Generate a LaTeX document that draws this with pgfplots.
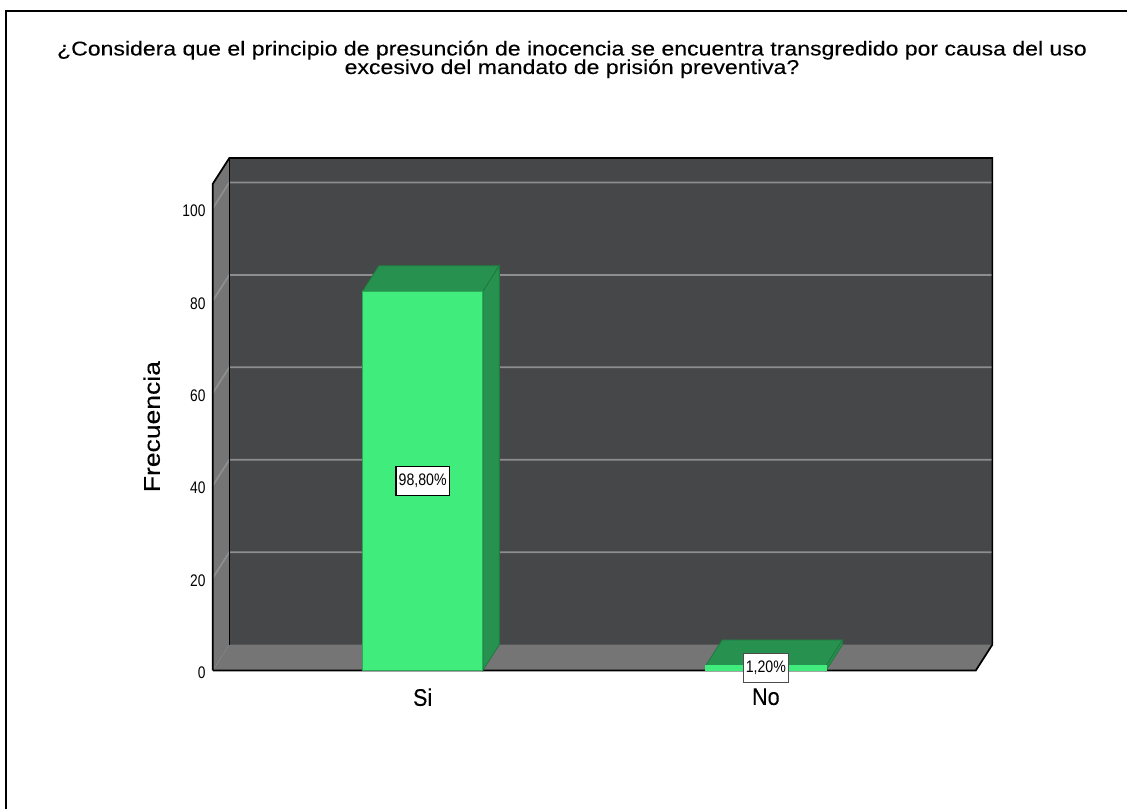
\documentclass[border=0pt]{standalone}
\usepackage{pgfplots}
\pgfplotsset{compat=1.18}
\usepackage{fontspec}
\setmainfont{Liberation Sans}
\newfontfamily\tickf[FakeStretch=0.82]{Liberation Sans}
\newfontfamily\labf[FakeStretch=0.85]{Liberation Sans}
\newfontfamily\catf[FakeStretch=0.9,FakeBold=0.2]{Liberation Sans}
\newfontfamily\ylabf[FakeStretch=1.17,FakeBold=0.3]{Liberation Sans}
\newfontfamily\titf[FakeStretch=1.153,FakeBold=0.2]{Liberation Sans}
\definecolor{wall}{HTML}{464749}
\definecolor{side}{HTML}{757575}
\definecolor{gridc}{HTML}{8E8E8E}
\definecolor{barf}{HTML}{40EC7C}
\definecolor{bard}{HTML}{27914F}
\definecolor{bare}{HTML}{1E7A40}
\begin{document}
\begin{tikzpicture}[x=0.75pt,y=0.75pt]
\path[fill=white] (0,0) rectangle (1128,810);
\draw[black,line width=1.5pt] (6,0) -- (6,799) -- (1128,799);
\node[align=center,font=\fontsize{15pt}{15pt}\selectfont\titf,anchor=center] at (572.5,750.5) {¿Considera que el principio de presunción de inocencia se encuentra transgredido por causa del uso\\[-1.1pt]excesivo del mandato de prisión preventiva?};
\begin{axis}[
  at={(159.75pt,104.25pt)},anchor=south west,
  scale only axis,width=572.8pt,height=366pt,
  xmin=-0.6114,xmax=1.6119,ymin=0,ymax=105.5,
  clip=false,
  axis line style={draw=none},
  xtick={0,1},xticklabels={Si,No},
  ytick={0,20,40,60,80,100},
  major tick length=0pt,
  /pgf/number format/assume math mode=true,
  yticklabel style={font=\fontsize{12.6pt}{12.6pt}\selectfont\tickf,xshift=-2pt,yshift=-2pt},
  xticklabel style={font=\fontsize{18pt}{18pt}\selectfont\catf,yshift=-10pt},
  ylabel={Frecuencia},
  ylabel style={font=\fontsize{17pt}{17pt}\selectfont\ylabf,yshift=10pt},
]
% walls
\addplot[fill=wall,draw=none] coordinates {(-0.5634,5.58)(1.660,5.58)(1.660,110.85)(-0.5634,110.85)} --cycle;
\addplot[fill=side,draw=none] coordinates {(-0.6114,0)(-0.5634,5.58)(-0.5634,110.85)(-0.6114,105.3)} --cycle;
\addplot[fill=side,draw=none] coordinates {(-0.6114,0)(1.6119,0)(1.660,5.58)(-0.5634,5.58)} --cycle;
% grid
\addplot[gridc,line width=1.3pt] coordinates {(-0.6114,20)(-0.5634,25.58)(1.660,25.58)};
\addplot[gridc,line width=1.3pt] coordinates {(-0.6114,40)(-0.5634,45.58)(1.660,45.58)};
\addplot[gridc,line width=1.3pt] coordinates {(-0.6114,60)(-0.5634,65.58)(1.660,65.58)};
\addplot[gridc,line width=1.3pt] coordinates {(-0.6114,80)(-0.5634,85.58)(1.660,85.58)};
\addplot[gridc,line width=1.3pt] coordinates {(-0.6114,100)(-0.5634,105.58)(1.660,105.58)};
% frame
\addplot[black,line width=1.3pt] coordinates {(-0.6114,0)(-0.6114,105.3)(-0.5634,110.85)(1.660,110.85)(1.660,5.58)(1.6119,0)(-0.6114,0)};
\addplot[black,line width=1pt] coordinates {(-0.5634,5.58)(-0.5634,110.85)};
% bar Si
\addplot[fill=bard,draw=bare,line width=0.6pt] coordinates {(-0.1755,82)(-0.1275,87.58)(0.2235,87.58)(0.1755,82)} --cycle;
\addplot[fill=bard,draw=bare,line width=0.6pt] coordinates {(0.1755,0)(0.2235,5.58)(0.2235,87.58)(0.1755,82)} --cycle;
\addplot[fill=barf,draw=bare!60!barf,line width=0.6pt] coordinates {(-0.1755,0)(0.1755,0)(0.1755,82)(-0.1755,82)} --cycle;
% bar No
\addplot[fill=bard,draw=bare,line width=0.6pt] coordinates {(0.8245,1)(0.8725,6.58)(1.2235,6.58)(1.1755,1)} --cycle;
\addplot[fill=bard,draw=bare,line width=0.6pt] coordinates {(1.1755,0)(1.2235,5.58)(1.2235,6.58)(1.1755,1)} --cycle;
\addplot[fill=barf,draw=barf,line width=0.6pt] coordinates {(0.8245,0)(1.1755,0)(1.1755,1)(0.8245,1)} --cycle;
% labels
\node[draw=black,fill=white,line width=0.9pt,inner xsep=2pt,inner ysep=0pt,minimum height=21.5pt,font=\fontsize{12.5pt}{12.5pt}\selectfont\labf] at (axis cs:0,41) {98,80\%};
\node[draw=black!70,fill=white,line width=0.9pt,inner xsep=2pt,inner ysep=0pt,minimum height=21.5pt,font=\fontsize{12.5pt}{12.5pt}\selectfont\labf] at (axis cs:1,0.54) {1,20\%};
\end{axis}
\end{tikzpicture}
\end{document}
